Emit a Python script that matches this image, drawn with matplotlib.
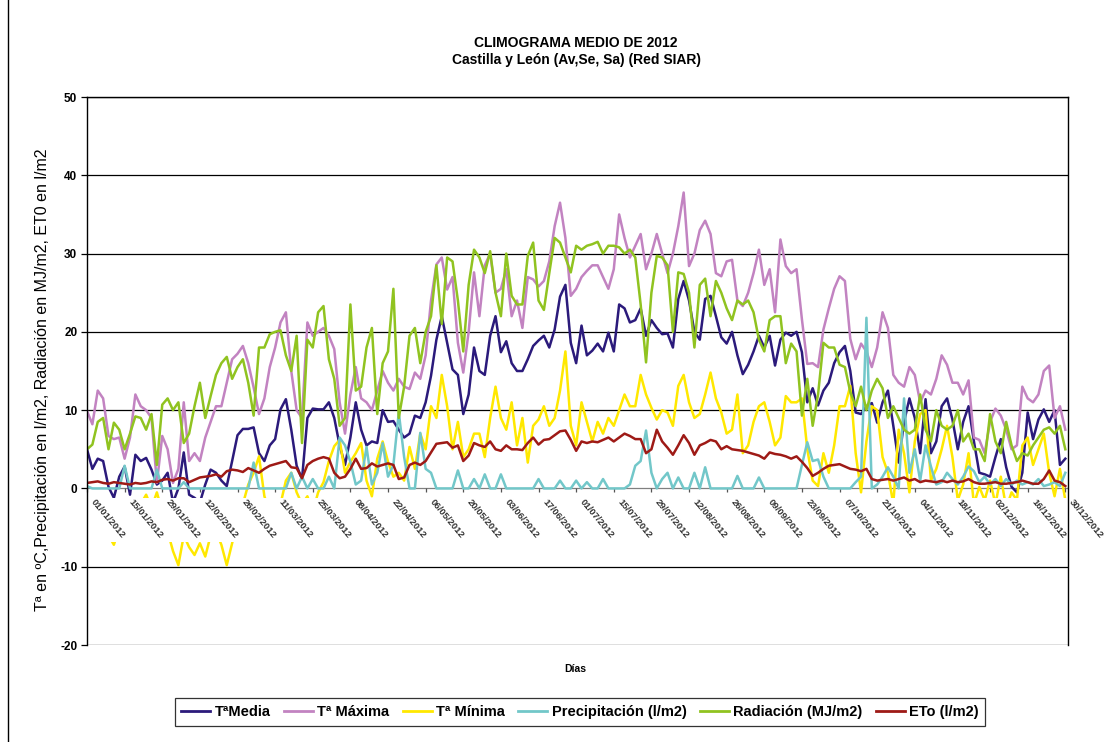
import numpy as np
import matplotlib
matplotlib.use('Agg')
import matplotlib.pyplot as plt
from matplotlib.lines import Line2D
from matplotlib.transforms import offset_copy

plt.rcParams['font.family'] = ['Liberation Sans', 'DejaVu Sans']
plt.rcParams['axes.unicode_minus'] = False

# one value every 2 days (day 0 = 01/01/2012)
days = np.arange(0, 366, 2)

t_media = [
    5.0, 2.5, 3.8, 3.5, 0.2, -1.2, 1.5, 2.8, -0.8, 4.3,
    3.5, 3.9, 2.4, 0.5, 1.0, 2.0, -1.8, 0.0, 4.6, -0.8,
    -1.2, -1.8, 0.5, 2.4, 2.0, 1.0, 0.3, 3.5, 6.8, 7.6,
    7.6, 7.8, 4.5, 3.5, 5.5, 6.3, 10.1, 11.4, 7.5, 2.9,
    1.2, 9.0, 10.2, 10.1, 10.1, 11.0, 9.0, 5.5, 3.0, 6.5,
    11.0, 7.5, 5.5, 6.0, 5.8, 10.0, 8.5, 8.6, 7.5, 6.5,
    7.0, 9.3, 9.0, 11.0, 14.4, 19.0, 22.0, 18.6, 15.2, 14.5,
    9.5, 12.0, 18.0, 15.0, 14.5, 19.5, 22.0, 17.4, 18.8, 16.0,
    15.0, 15.0, 16.5, 18.2, 18.9, 19.5, 18.0, 20.3, 24.5, 26.0,
    18.6, 16.0, 20.8, 17.0, 17.6, 18.5, 17.5, 19.9, 17.5, 23.5,
    23.0, 21.2, 21.5, 23.0, 19.5, 21.5, 20.5, 19.7, 19.8, 18.0,
    24.2, 26.5, 24.0, 20.0, 19.0, 24.2, 24.6, 22.0, 19.3, 18.5,
    20.0, 17.0, 14.6, 15.8, 17.5, 19.5, 18.0, 19.5, 15.7, 19.0,
    19.9, 19.5, 20.0, 17.4, 11.0, 12.8, 10.6, 12.5, 13.5, 16.0,
    17.4, 18.2, 15.0, 9.7, 9.5, 10.5, 10.9, 8.4, 11.0, 12.5,
    8.0, 3.3, 8.5, 11.5, 9.0, 4.5, 11.4, 4.5, 6.0, 10.5,
    11.5, 8.8, 5.0, 8.5, 10.5, 6.0, 2.0, 1.8, 1.5, 4.0,
    6.3, 2.7, 0.2, -0.5, 2.0, 9.7, 6.3, 8.8, 10.1, 8.5,
    10.0, 3.0, 3.8,
]

t_maxima = [
    9.9, 8.2, 12.5, 11.5, 6.7, 6.3, 6.5, 3.8, 6.5, 12.0,
    10.5, 10.0, 9.0, 0.7, 6.7, 5.0, 0.7, 2.5, 11.0, 3.5,
    4.5, 3.5, 6.5, 8.5, 10.5, 10.5, 13.5, 16.5, 17.2, 18.2,
    16.0, 12.9, 9.5, 11.5, 15.5, 18.0, 21.2, 22.5, 15.0, 10.0,
    9.0, 21.2, 19.5, 20.0, 20.5, 19.5, 17.8, 11.0, 7.0, 12.0,
    15.5, 11.5, 11.0, 10.0, 12.5, 15.0, 13.5, 12.5, 14.0, 13.0,
    12.7, 14.8, 14.0, 17.0, 24.0, 28.6, 29.5, 25.4, 27.0, 18.6,
    14.8, 20.0, 27.6, 22.0, 28.5, 30.0, 25.0, 25.5, 28.0, 22.0,
    24.0, 20.5, 27.0, 26.7, 25.8, 26.5, 29.0, 33.5, 36.5, 32.0,
    24.6, 25.5, 27.0, 27.8, 28.5, 28.5, 27.0, 25.5, 28.0, 35.0,
    32.0, 29.5, 31.0, 32.5, 28.0, 30.0, 32.5, 30.0, 27.5, 30.0,
    33.5, 37.8, 28.4, 30.0, 33.0, 34.2, 32.5, 27.5, 27.1, 29.0,
    29.2, 24.0, 23.3, 25.0, 27.5, 30.5, 26.0, 28.0, 22.5, 31.8,
    28.4, 27.5, 28.0, 21.6, 15.9, 16.0, 15.5, 20.3, 23.0, 25.5,
    27.1, 26.5, 19.1, 16.5, 18.5, 17.5, 15.5, 18.0, 22.5, 20.5,
    14.5, 13.5, 13.0, 15.5, 14.5, 11.0, 12.5, 12.0, 14.0, 17.0,
    15.8, 13.5, 13.5, 12.0, 13.8, 6.5, 6.2, 4.5, 8.5, 10.2,
    9.3, 7.5, 5.0, 5.5, 13.0, 11.5, 11.0, 12.0, 15.0, 15.7,
    9.0, 10.5, 7.5,
]

t_minima = [
    -1.5, -3.0, -4.0, -5.0, -6.0, -7.2, -5.0, -3.0, -4.0, -3.5,
    -2.0, -0.8, -2.5, -0.5, -3.0, -5.5, -8.0, -9.8, -6.0, -7.5,
    -8.5, -7.0, -8.7, -6.0, -5.5, -7.2, -9.8, -7.0, -4.0, -2.0,
    0.5, 2.0, 4.1, -1.0, -3.0, -1.5, -2.0, 1.0, 2.0, -0.5,
    -2.0, -1.0, -3.0, -0.5, 0.8, 3.5, 5.4, 6.2, 2.0, 3.4,
    4.5, 5.8, 1.0, -1.0, 3.8, 6.0, 3.4, 1.5, 2.0, 1.0,
    5.3, 2.5, 7.0, 5.0, 10.5, 9.0, 14.5, 10.5, 5.0, 8.5,
    4.0, 5.0, 7.0, 7.0, 4.0, 9.0, 13.0, 9.0, 7.5, 11.0,
    5.5, 9.0, 3.3, 8.0, 8.8, 10.5, 8.0, 9.0, 12.5, 17.5,
    8.0, 5.5, 11.0, 8.5, 6.0, 8.5, 7.0, 9.0, 8.0, 10.0,
    12.0, 10.5, 10.5, 14.5, 12.0, 10.3, 8.8, 10.0, 9.7, 8.0,
    13.1, 14.5, 11.0, 9.0, 9.5, 12.0, 14.8, 11.5, 9.7, 7.0,
    7.5, 12.0, 4.5, 5.5, 8.5, 10.5, 11.0, 8.5, 5.5, 6.5,
    11.8, 11.0, 11.0, 11.5, 5.0, 1.0, 0.3, 4.5, 2.0, 5.5,
    10.5, 10.5, 13.1, 4.5, -0.5, 6.0, 10.5, 10.0, 4.0, 2.0,
    -2.0, 7.5, 4.5, -0.5, 6.0, 9.5, 10.0, 1.0, 2.5, 5.0,
    8.0, 4.0, -1.5, 0.5, 4.5, -2.0, 0.2, -1.5, 1.0, -2.0,
    1.5, -2.5, -0.5, -1.5, 5.5, 6.5, 3.0, 5.0, 7.0, 2.0,
    -1.0, 2.5, -1.5,
]

precipitacion = [
    0.3, 0, 0, 0, 0, 0, 0, 2.9, 0, 0,
    0, 0, 0, 2.4, 0, 0, 0, 0, 0.8, 0,
    0, 0, 0, 0, 0, 0, 0, 0, 0, 0,
    0, 3.3, 0, 0, 0, 0, 0, 0, 2.0, 0,
    1.5, 0, 1.2, 0, 0, 1.5, 0, 6.5, 5.5, 3.4,
    0.5, 1.0, 5.3, 0.5, 2.0, 5.8, 1.5, 3.0, 9.7, 4.0,
    0, 0, 7.1, 2.5, 2.0, 0, 0, 0, 0, 2.3,
    0, 0, 1.2, 0, 1.8, 0, 0, 1.8, 0, 0,
    0, 0, 0, 0, 1.2, 0, 0, 0, 1.0, 0,
    0, 1.0, 0, 0.8, 0, 0, 1.2, 0, 0, 0,
    0, 0.5, 2.9, 3.5, 7.4, 2.0, 0, 1.2, 2.0, 0,
    1.4, 0, 0, 2.0, 0, 2.7, 0, 0, 0, 0,
    0, 1.6, 0, 0, 0, 1.4, 0, 0, 0, 0,
    0, 0, 0, 3.0, 5.9, 3.5, 3.7, 1.5, 0, 0,
    0, 0, 0, 0.8, 1.5, 21.8, 0, 0.5, 1.5, 2.7,
    1.5, 0, 11.5, 2.0, 5.0, 1.0, 5.5, 2.8, 0.5, 0.8,
    2.0, 1.2, 0.5, 1.5, 2.8, 2.2, 0.8, 1.5, 0.5, 1.2,
    0.3, 1.2, 0.5, 1.0, 0.5, 0.8, 0.5, 1.2, 0.3, 0.5,
    0.8, 0.3, 2.0,
]

radiacion = [
    5.0, 5.6, 8.5, 9.0, 5.0, 8.4, 7.5, 5.0, 7.0, 9.2,
    9.0, 7.5, 9.5, 3.0, 10.7, 11.5, 10.0, 11.0, 5.8, 7.0,
    10.5, 13.5, 9.0, 11.8, 14.5, 16.0, 16.8, 14.0, 15.5, 16.5,
    13.5, 9.3, 18.0, 18.0, 19.7, 20.0, 20.2, 17.0, 15.0, 19.5,
    5.8, 19.0, 18.0, 22.5, 23.3, 16.5, 14.0, 8.0, 9.0, 23.5,
    12.5, 13.0, 18.0, 20.5, 9.5, 16.0, 17.5, 25.5, 9.0, 13.0,
    19.5, 20.5, 16.0, 20.0, 22.0, 28.5, 21.0, 29.5, 29.0, 24.0,
    17.5, 26.0, 30.5, 29.5, 27.5, 30.3, 25.0, 22.0, 30.0, 24.6,
    23.5, 23.5, 29.7, 31.4, 24.0, 22.8, 27.5, 32.0, 31.4, 29.5,
    27.6, 31.0, 30.5, 31.0, 31.2, 31.5, 30.0, 31.0, 31.0, 30.8,
    30.0, 30.5, 29.5, 23.5, 16.1, 25.0, 29.7, 29.5, 28.5, 20.0,
    27.6, 27.4, 25.0, 18.0, 26.0, 26.8, 22.0, 26.5, 25.0, 23.0,
    21.5, 24.0, 23.5, 24.0, 22.5, 19.0, 17.5, 21.5, 22.0, 22.0,
    16.0, 18.5, 17.5, 9.3, 14.0, 8.0, 12.0, 18.6, 18.0, 18.0,
    15.8, 15.5, 12.3, 10.5, 13.0, 10.0, 12.5, 14.0, 12.8, 9.0,
    10.5, 9.0, 7.5, 7.0, 7.5, 12.0, 7.5, 6.0, 10.0, 8.0,
    7.5, 8.0, 10.0, 6.0, 7.0, 5.0, 5.0, 3.5, 9.5, 6.0,
    4.5, 8.5, 5.5, 3.5, 4.5, 4.2, 5.5, 6.5, 7.5, 7.8,
    7.0, 8.0, 5.0,
]

eto = [
    0.7, 0.8, 0.9, 0.7, 0.6, 0.8, 0.7, 0.6, 0.5, 0.7,
    0.6, 0.7, 0.9, 0.8, 1.1, 1.2, 1.0, 1.3, 1.3, 0.8,
    1.1, 1.4, 1.5, 1.6, 1.8, 1.5, 2.2, 2.4, 2.3, 2.1,
    2.6, 2.3, 2.0, 2.5, 2.9, 3.1, 3.3, 3.5, 2.7, 2.6,
    1.3, 3.0, 3.5, 3.8, 4.0, 3.8, 2.0, 1.3, 1.5, 2.5,
    3.8, 2.5, 2.6, 3.2, 2.8, 3.0, 3.2, 3.0, 1.2, 1.4,
    3.0, 3.3, 3.0, 3.5, 4.6, 5.7, 5.8, 5.9, 5.2, 5.5,
    3.5, 4.2, 5.8, 5.5, 5.3, 6.0, 5.0, 4.8, 5.5, 5.0,
    5.0, 4.9, 5.8, 6.5, 5.6, 6.2, 6.3, 6.8, 7.3, 7.4,
    6.2, 4.8, 6.0, 5.8, 6.0, 5.9, 6.2, 6.5, 6.0, 6.5,
    7.0, 6.7, 6.3, 6.3, 4.5, 5.0, 7.5, 6.0, 5.2, 4.3,
    5.5, 6.8, 5.8, 4.3, 5.5, 5.8, 6.2, 6.0, 5.0, 5.4,
    5.0, 4.9, 4.8, 4.6, 4.4, 4.2, 3.8, 4.6, 4.4, 4.3,
    4.1, 3.8, 4.1, 3.4, 2.6, 1.6, 2.0, 2.5, 2.9, 3.0,
    3.1, 2.8, 2.5, 2.4, 2.2, 2.5, 1.2, 1.0, 1.1, 1.2,
    1.0, 1.2, 1.4, 1.0, 1.2, 0.8, 1.0, 0.9, 0.8, 1.0,
    0.8, 1.0, 0.8, 0.9, 1.2, 0.8, 0.6, 0.6, 0.7, 0.8,
    0.6, 0.6, 0.7, 0.8, 1.0, 0.8, 0.6, 0.6, 1.2, 2.3,
    1.0, 0.8, 0.3,
]

tick_days = np.arange(0, 366, 14)
tick_labels = ['01/01/2012', '15/01/2012', '29/01/2012', '12/02/2012', '26/02/2012',
               '11/03/2012', '25/03/2012', '08/04/2012', '22/04/2012', '06/05/2012',
               '20/05/2012', '03/06/2012', '17/06/2012', '01/07/2012', '15/07/2012',
               '29/07/2012', '12/08/2012', '26/08/2012', '09/09/2012', '23/09/2012',
               '07/10/2012', '21/10/2012', '04/11/2012', '18/11/2012', '02/12/2012',
               '16/12/2012', '30/12/2012']

series = [
    (t_media, 'TªMedia', '#2B1A7B'),
    (t_maxima, 'Tª Máxima', '#C283C1'),
    (t_minima, 'Tª Mínima', '#FFE800'),
    (precipitacion, 'Precipitación (l/m2)', '#72C7C9'),
    (radiacion, 'Radiación (MJ/m2)', '#90C320'),
    (eto, 'ETo (l/m2)', '#9E1A16'),
]

fig = plt.figure(figsize=(11.2, 7.42), dpi=100)
ax = fig.add_axes([87 / 1120, 1 - 645 / 742, 981 / 1120, 548 / 742])

# horizontal grid
for v in range(-20, 51, 10):
    ax.axhline(v, color='#808080' if v == 0 else 'black', lw=0.9, zorder=1)

for i, (vals, lab, col) in enumerate(series):
    ax.plot(days, vals, color=col, lw=1.8, zorder=2 + i * 0.01)

# label band under the zero line hides the lines (as in the original)
ax.axhspan(-6.8, -1.2, color='white', lw=0, zorder=2.3)

ax.set_xlim(0, 365)
ax.set_ylim(-20, 50)
ax.set_yticks(range(-20, 51, 10))
ax.tick_params(axis='y', direction='out', length=4, width=0.9, labelsize=8.5, pad=3)
for t in ax.get_yticklabels():
    t.set_fontweight('bold')

ax.spines['bottom'].set_position(('data', 0))
ax.spines['bottom'].set_visible(False)
ax.set_xticks(tick_days)
ax.set_xticklabels([])
ax.tick_params(axis='x', direction='out', length=3, width=0.9, color='#555555')
for s in ['left', 'top', 'right']:
    ax.spines[s].set_linewidth(1.0)
    ax.spines[s].set_color('black')

lab_tr = offset_copy(ax.transData, fig=fig, x=9, y=-9, units='dots')
for d, lab in zip(tick_days, tick_labels):
    ax.text(d, 0, lab, transform=lab_tr, rotation=-50, rotation_mode='anchor',
            ha='left', va='top', fontsize=6.8, fontweight='bold', color='#333333',
            zorder=3, clip_on=False)

fig.text(576 / 1120, 1 - 43 / 742, 'CLIMOGRAMA MEDIO DE 2012', ha='center', va='center',
         fontsize=10, fontweight='bold')
fig.text(576 / 1120, 1 - 60 / 742, 'Castilla y León (Av,Se, Sa) (Red SIAR)', ha='center',
         va='center', fontsize=10, fontweight='bold')
fig.text(43 / 1120, 1 - 380 / 742,
         'Tª en ºC,Precipitación en l/m2, Radiación en MJ/m2, ET0 en l/m2',
         rotation=90, ha='center', va='center', fontsize=11.5)
fig.text(575 / 1120, 1 - 669 / 742, 'Días', ha='center', va='center',
         fontsize=7.5, fontweight='bold')

handles = [Line2D([0], [0], color=c, lw=2) for _, _, c in series]
leg = fig.legend(handles, [l for _, l, _ in series], loc='center', ncol=6,
                 bbox_to_anchor=(580 / 1120, 1 - 712 / 742), frameon=True,
                 fancybox=False, edgecolor='black', handlelength=2.0,
                 handletextpad=0.3, columnspacing=0.9, borderpad=0.45,
                 prop={'weight': 'bold', 'size': 10.5})
leg.get_frame().set_linewidth(0.9)

# outer chart border (left edge)
fig.add_artist(Line2D([8 / 1120, 8 / 1120], [0, 1], color='black', lw=1,
                      transform=fig.transFigure))

fig.savefig('out.png', dpi=100)
